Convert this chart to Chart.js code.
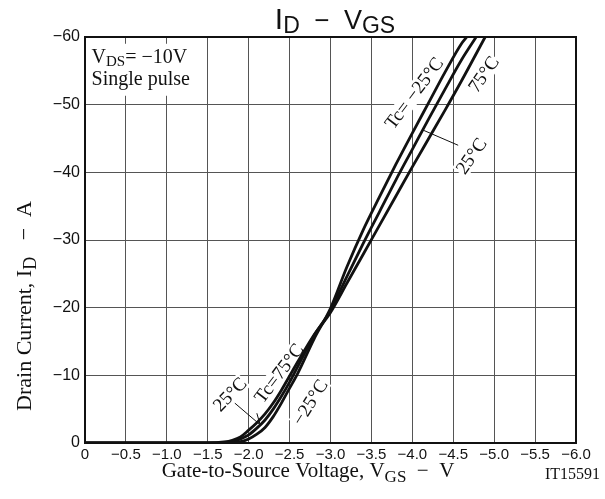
<!DOCTYPE html>
<html>
<head>
<meta charset="utf-8">
<script src="https://cdn.jsdelivr.net/npm/chart.js@4/dist/chart.umd.min.js"></script>
<style>
  html, body { margin: 0; padding: 0; background: #fff; }
  #wrap { width: 605px; height: 499px; }
</style>
</head>
<body>
<div id="wrap"><canvas id="idvgs" width="605" height="499"></canvas></div>
<script>
// gate voltage (V) and drain current (A), one pair of arrays per case temperature
const vgsM25 = [0, -1.7, -1.9, -2.0, -2.1, -2.2, -2.3, -2.4, -2.5, -2.6, -2.8, -3.0, -3.2, -3.4, -3.6, -3.8, -4.0, -4.2, -4.4, -4.6, -4.665];
const idM25  = [0, 0, -0.2, -0.6, -1.3, -2.3, -3.9, -5.9, -8.1, -10.3, -15.4, -19.9, -26.0, -31.5, -36.4, -41.2, -45.8, -50.3, -54.8, -59.0, -60];

const vgs25 = [0, -1.6, -1.8, -1.9, -2.0, -2.1, -2.2, -2.3, -2.4, -2.5, -2.6, -2.8, -3.0, -3.2, -3.4, -3.6, -3.8, -4.0, -4.2, -4.4, -4.6, -4.78];
const id25  = [0, 0, -0.2, -0.6, -1.2, -2.2, -3.4, -5.0, -6.9, -9.0, -11.3, -15.9, -19.6, -24.6, -29.5, -34.2, -38.9, -43.4, -47.9, -52.3, -56.6, -60];

const vgs75 = [0, -1.5, -1.7, -1.8, -1.9, -2.0, -2.1, -2.2, -2.3, -2.4, -2.5, -2.6, -2.8, -3.0, -3.2, -3.4, -3.6, -3.8, -4.0, -4.2, -4.4, -4.6, -4.89];
const id75  = [0, 0, -0.15, -0.4, -0.9, -1.9, -3.0, -4.3, -5.9, -7.8, -9.9, -12.0, -16.0, -19.3, -23.6, -27.9, -32.2, -36.5, -40.8, -45.0, -49.2, -53.5, -60];

const xTicks = [0, -0.5, -1.0, -1.5, -2.0, -2.5, -3.0, -3.5, -4.0, -4.5, -5.0, -5.5, -6.0];
const yTicks = [0, -10, -20, -30, -40, -50, -60];

// curve labels: [text, V, I, angle in degrees]
const curveLabels = [
  ["Tc= \u221225\u00b0C", -4.02, -51.7, 53],
  ["75\u00b0C", -4.87, -54.5, 55],
  ["25\u00b0C", -4.72, -42.4, 55],
  ["25\u00b0C", -1.77, -7.2, 46],
  ["Tc=75\u00b0C", -2.37, -10.3, 53],
  ["\u221225\u00b0C", -2.75, -6.0, 58]
];
// leader lines: [V1, I1, V2, I2]
const leaders = [
  [-4.56, -44.0, -4.12, -46.3],
  [-1.83, -5.9, -2.14, -2.7],
  [-2.10, -4.4, -2.14, -2.7]
];

const SERIF = '"Liberation Serif", "Times New Roman", serif';
const SANS = '"Liberation Sans", Arial, sans-serif';

function pts(xs, ys) {
  return xs.map((v, i) => ({ x: v, y: ys[i] }));
}
function minus(s) {
  return String(s).replace('-', '\u2212');
}

// draw a run of [text, size, dy] pieces starting at x
function drawRuns(ctx, runs, x, y, family) {
  runs.forEach(r => {
    ctx.font = r[1] + 'px ' + family;
    ctx.fillText(r[0], x, y + r[2]);
    x += ctx.measureText(r[0]).width;
  });
}
function runsWidth(ctx, runs, family) {
  let w = 0;
  runs.forEach(r => {
    ctx.font = r[1] + 'px ' + family;
    w += ctx.measureText(r[0]).width;
  });
  return w;
}

const decorations = {
  id: 'decorations',
  beforeDatasetsDraw(chart) {
    const ctx = chart.ctx;
    const xs = chart.scales.x, ys = chart.scales.y;
    ctx.save();
    // conditions box
    ctx.fillStyle = '#fff';
    ctx.fillRect(xs.getPixelForValue(-0.03), ys.getPixelForValue(-59), 119, 52);
    ctx.fillStyle = '#111';
    ctx.textBaseline = 'alphabetic';
    ctx.textAlign = 'left';
    const bx = xs.getPixelForValue(-0.08);
    drawRuns(ctx, [['V', 20, 0], ['DS', 15, 3], ['= \u221210V', 20, 0]], bx, ys.getPixelForValue(-56.1), SERIF);
    drawRuns(ctx, [['Single pulse', 20, 0]], bx, ys.getPixelForValue(-52.9), SERIF);

    // leader lines
    ctx.strokeStyle = '#111';
    ctx.lineWidth = 1;
    leaders.forEach(l => {
      ctx.beginPath();
      ctx.moveTo(xs.getPixelForValue(l[0]), ys.getPixelForValue(l[1]));
      ctx.lineTo(xs.getPixelForValue(l[2]), ys.getPixelForValue(l[3]));
      ctx.stroke();
    });

    // rotated curve labels with white knock-out
    ctx.font = '19px ' + SERIF;
    ctx.textAlign = 'center';
    ctx.textBaseline = 'middle';
    curveLabels.forEach(c => {
      const w = ctx.measureText(c[0]).width;
      ctx.save();
      ctx.translate(xs.getPixelForValue(c[1]), ys.getPixelForValue(c[2]));
      ctx.rotate(-c[3] * Math.PI / 180);
      ctx.fillStyle = '#fff';
      ctx.fillRect(-w / 2 - 1, -9, w + 2, 18);
      ctx.fillStyle = '#111';
      ctx.fillText(c[0], 0, 1);
      ctx.restore();
    });
    ctx.restore();
  },
  afterDraw(chart) {
    const ctx = chart.ctx;
    const a = chart.chartArea;
    ctx.save();
    // frame
    ctx.strokeStyle = '#111';
    ctx.lineWidth = 2;
    ctx.strokeRect(a.left, a.top, a.right - a.left, a.bottom - a.top);

    ctx.fillStyle = '#111';
    ctx.textAlign = 'left';
    ctx.textBaseline = 'alphabetic';
    // title
    const title = [['I', 30, 0], ['D', 23, 4], ['  \u2212  ', 26, 0], ['V', 27, 0], ['GS', 23, 4]];
    const tw = runsWidth(ctx, title, SANS);
    drawRuns(ctx, title, 335 - tw / 2, 29, SANS);

    // x axis title
    const xt = [['Gate-to-Source Voltage, V', 21, 0], ['GS', 17, 5], ['  \u2212  V', 21, 0]];
    const xw = runsWidth(ctx, xt, SERIF);
    drawRuns(ctx, xt, 308 - xw / 2, 477, SERIF);

    ctx.font = '16px ' + SERIF;
    ctx.textAlign = 'right';
    ctx.fillText('IT15591', 600, 479);

    // y axis title
    ctx.save();
    ctx.translate(31, 306);
    ctx.rotate(-Math.PI / 2);
    ctx.textAlign = 'left';
    const yt = [['Drain Current, I', 22, 0], ['D', 18, 5], ['   \u2212  A', 22, 0]];
    const yw = runsWidth(ctx, yt, SERIF);
    drawRuns(ctx, yt, -yw / 2, 0, SERIF);
    ctx.restore();
    ctx.restore();
  }
};

function lineSet(label, xs, ys) {
  return {
    label: label,
    data: pts(xs, ys),
    borderColor: '#111',
    borderWidth: 2.8,
    pointRadius: 0,
    cubicInterpolationMode: 'monotone',
    fill: false
  };
}

const ctx = document.getElementById('idvgs').getContext('2d');
const chart = new Chart(ctx, {
  type: 'line',
  data: {
    datasets: [
      lineSet('Tc=-25°C', vgsM25, idM25),
      lineSet('Tc=25°C', vgs25, id25),
      lineSet('Tc=75°C', vgs75, id75)
    ]
  },
  options: {
    responsive: false,
    animation: false,
    events: [],
    layout: { padding: { top: 37, right: 29, left: 0, bottom: 0 } },
    plugins: { legend: { display: false }, tooltip: { enabled: false }, title: { display: false } },
    scales: {
      x: {
        type: 'linear',
        min: -6,
        max: 0,
        reverse: true,
        afterFit: s => { s.height = 56; },
        afterBuildTicks: s => { s.ticks = xTicks.map(v => ({ value: v })); },
        grid: { color: '#555', lineWidth: 1, drawTicks: false },
        border: { display: false },
        ticks: {
          padding: 3,
          color: '#111',
          maxRotation: 0,
          autoSkip: false,
          font: { family: SANS, size: 15 },
          callback: v => v === 0 ? '0' : minus(Number(v).toFixed(1))
        }
      },
      y: {
        type: 'linear',
        min: -60,
        max: 0,
        reverse: true,
        afterFit: s => { s.width = 85; },
        afterBuildTicks: s => { s.ticks = yTicks.map(v => ({ value: v })); },
        grid: { color: '#555', lineWidth: 1, drawTicks: false },
        border: { display: false },
        ticks: {
          padding: 5,
          color: '#111',
          font: { family: SANS, size: 16 },
          callback: v => minus(v)
        }
      }
    }
  },
  plugins: [decorations]
});
</script>
</body>
</html>
